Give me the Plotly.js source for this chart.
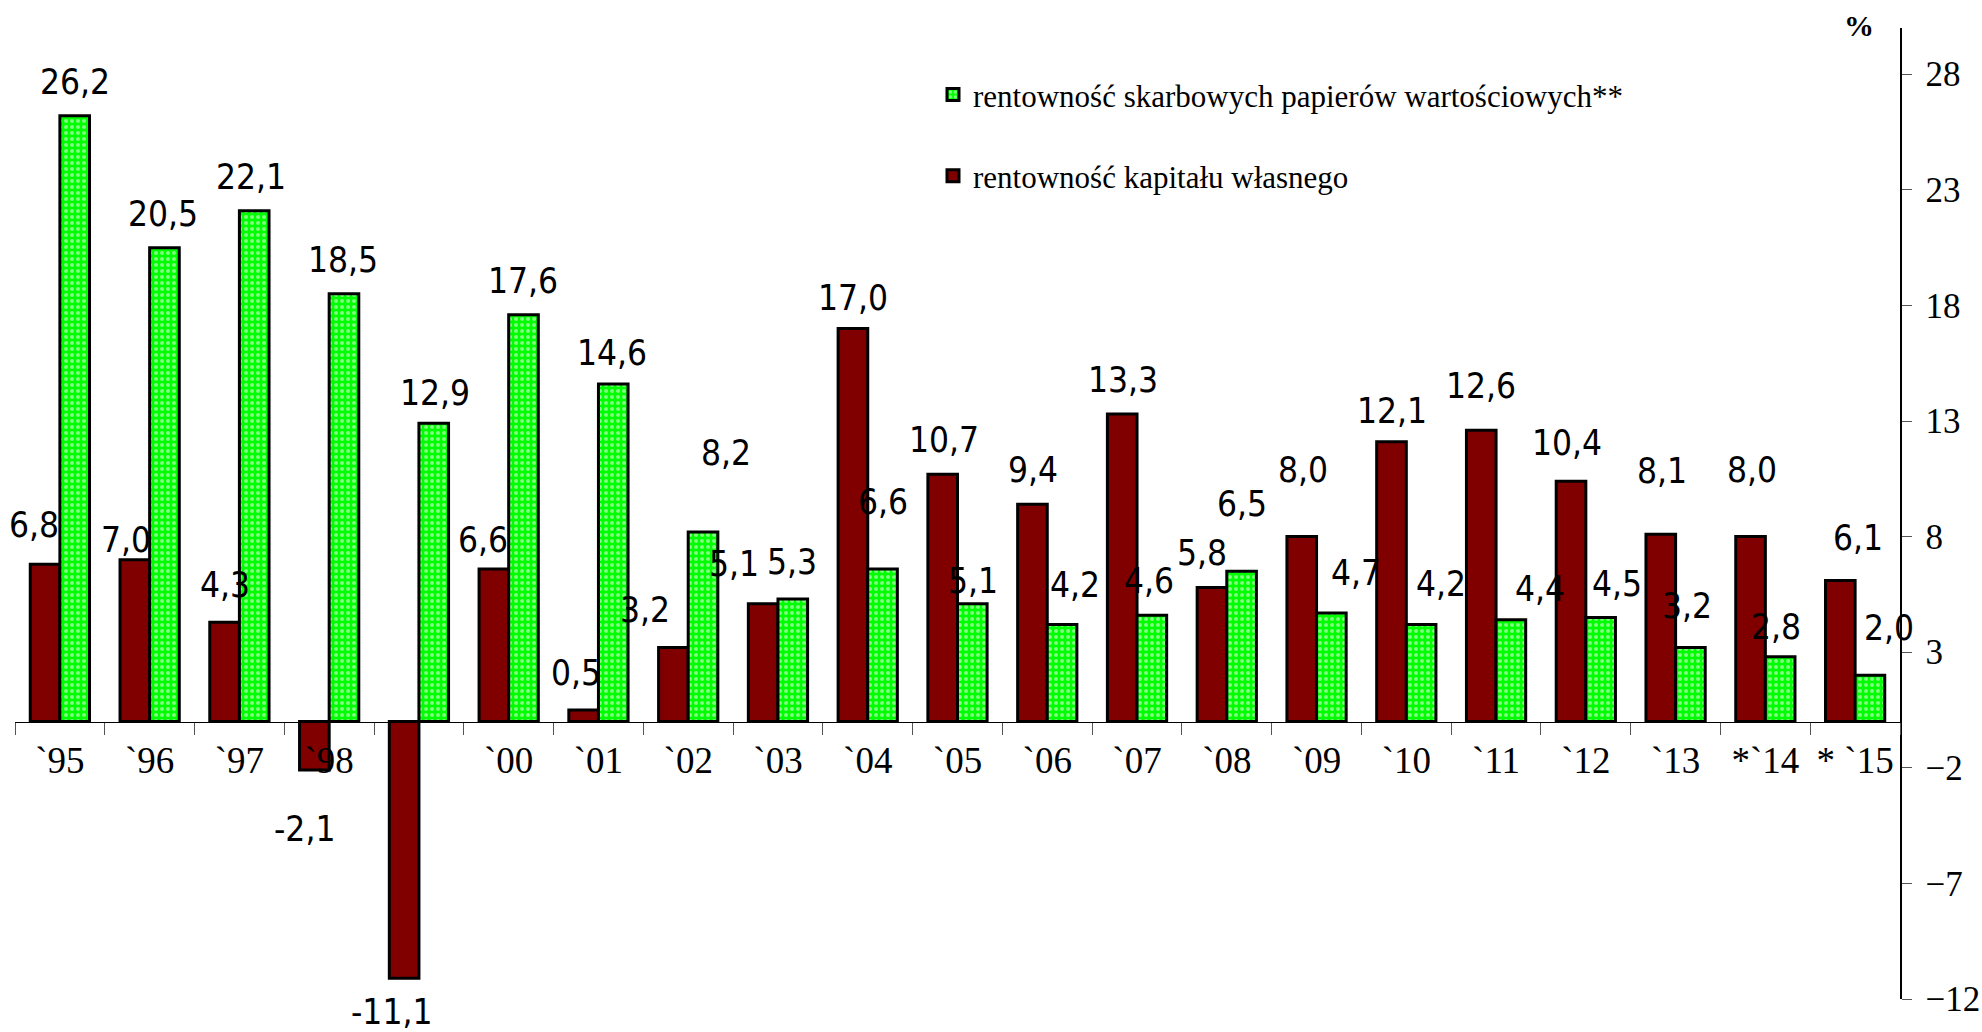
<!DOCTYPE html>
<html>
<head>
<meta charset="utf-8">
<script src="https://cdn.plot.ly/plotly-3.0.1.min.js"></script>
<style>html,body{margin:0;padding:0;background:#fff;}#chart{width:1982px;height:1032px;}</style>
</head>
<body>
<div id="chart"></div>
<script>
// ---- data ----
const categories = ['`95','`96','`97','`98','`99','`00','`01','`02','`03','`04','`05','`06','`07','`08','`09','`10','`11','`12','`13','*`14','*`15'];
const tickLabels = ['`95','`96','`97','`98','','`00','`01','`02','`03','`04','`05','`06','`07','`08','`09','`10','`11','`12','`13','*`14','* `15'];
const roeValues = [6.8, 7.0, 4.3, -2.1, -11.1, 6.6, 0.5, 3.2, 5.1, 17.0, 10.7, 9.4, 13.3, 5.8, 8.0, 12.1, 12.6, 10.4, 8.1, 8.0, 6.1];
const bondValues = [26.2, 20.5, 22.1, 18.5, 12.9, 17.6, 14.6, 8.2, 5.3, 6.6, 5.1, 4.2, 4.6, 6.5, 4.7, 4.2, 4.4, 4.5, 3.2, 2.8, 2.0];
const roeName = 'rentowność kapitału własnego';
const bondName = 'rentowność skarbowych papierów wartościowych**';
const yTicks = [-12, -7, -2, 3, 8, 13, 18, 23, 28];

// ---- label nudges (px), as placed in the original ----
const roeLabelDx = [-11,-9,0,-10,-13,-11,-8,-28,-29,0,1,1,1,-10,1,1,0,-4,1,1,18];
const roeLabelDy = [39,20,37,-59,-34,29,37,38,40,31,34,34,34,34,67,31,44,38,63,67,43];
const bondLabelDx = [0,-1,-3,-1,1,-1,-1,23,-1,0,1,13,-3,0,25,20,29,16,-3,-4,19];
const bondLabelDy = [34,34,34,34,30,34,31,79,37,67,23,39,34,67,40,40,31,34,42,30,47];

// ---- layout geometry ----
const W = 1982, H = 1032;
const margin = {l: 15, r: 82, t: 28, b: 33};
const bargap = 0.34;
const plotW = W - margin.l - margin.r;
const catW = plotW / categories.length;
const barHalf = catW * (1 - bargap) / 4;

const fmt = v => v.toFixed(1).replace('.', ',');
const labelFont = {family: '"Liberation Sans Narrow", "Arial Narrow", "DejaVu Sans Condensed", sans-serif', size: 35, color: '#000'};
const serif = '"Liberation Serif", "Times New Roman", serif';

const traces = [
  {
    type: 'bar', name: roeName, x: categories, y: roeValues,
    legendgroup: 'roe', legendrank: 2,
    marker: {color: '#800000', line: {color: '#000', width: 3}},
    hoverinfo: 'skip'
  },
  {
    type: 'bar', name: bondName, x: categories, y: bondValues,
    legendgroup: 'bond', legendrank: 1,
    marker: {color: '#00ff00', line: {color: '#000', width: 3},
      pattern: {shape: '.', fgcolor: '#ffffff', size: 6, solidity: 0.35, fillmode: 'overlay'}},
    hoverinfo: 'skip'
  }
];

const annotations = [];
categories.forEach((c, i) => {
  annotations.push({x: c, y: roeValues[i], xref: 'x', yref: 'y', text: fmt(roeValues[i]), showarrow: false,
    xshift: -barHalf + roeLabelDx[i], yshift: roeLabelDy[i], yanchor: 'middle', xanchor: 'center', font: labelFont});
  annotations.push({x: c, y: bondValues[i], xref: 'x', yref: 'y', text: fmt(bondValues[i]), showarrow: false,
    xshift: barHalf + bondLabelDx[i], yshift: bondLabelDy[i], yanchor: 'middle', xanchor: 'center', font: labelFont});
});
annotations.push({xref: 'paper', yref: 'paper', x: 0.978, y: 1.003, text: '<b>%</b>', showarrow: false,
  xanchor: 'center', yanchor: 'middle', font: {family: serif, size: 30, color: '#000'}});

const yMin = -12, yMax = 30;

const layout = {
  width: W, height: H, margin: margin,
  paper_bgcolor: '#fff', plot_bgcolor: '#fff',
  barmode: 'group', bargap: bargap, bargroupgap: 0,
  showlegend: true,
  legend: {x: (933 - margin.l) / plotW, xanchor: 'left', y: 0.959, yanchor: 'top',
    traceorder: 'grouped', tracegroupgap: 38, bgcolor: 'rgba(0,0,0,0)',
    font: {family: serif, size: 31, color: '#000'}},
  xaxis: {type: 'category', anchor: 'free', position: (0 - yMin) / (yMax - yMin),
    range: [-0.5, categories.length - 0.5],
    tickmode: 'array', tickvals: categories, ticktext: tickLabels, tickson: 'boundaries',
    showline: true, linecolor: '#000', linewidth: 1.5,
    ticks: 'outside', ticklen: 12, tickcolor: '#555', tickwidth: 1,
    ticklabelstandoff: 6,
    tickfont: {family: serif, size: 37, color: '#000'},
    showgrid: false, zeroline: false, fixedrange: true},
  yaxis: {side: 'right', range: [yMin, yMax], tickmode: 'array', tickvals: yTicks,
    showline: true, linecolor: '#000', linewidth: 1.5,
    ticks: 'outside', ticklen: 10, tickcolor: '#555', tickwidth: 1,
    ticklabelstandoff: 7,
    tickfont: {family: serif, size: 35, color: '#000'},
    showgrid: false, zeroline: false, fixedrange: true},
  annotations: annotations
};

Plotly.newPlot('chart', traces, layout, {displayModeBar: false, staticPlot: true});
</script>
</body>
</html>
